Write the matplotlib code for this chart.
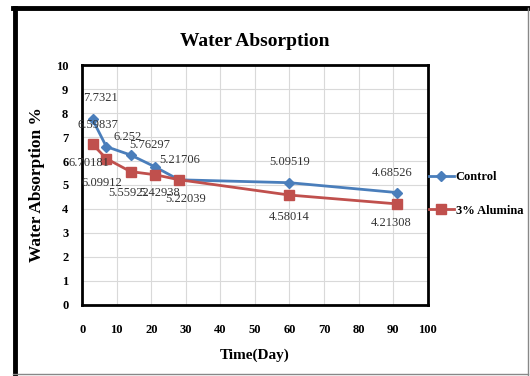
import matplotlib.pyplot as plt
from matplotlib.lines import Line2D

plt.rcParams['font.family'] = ['Liberation Serif', 'DejaVu Serif']
plt.rcParams['font.weight'] = 'bold'

days = [3, 7, 14, 21, 28, 60, 91]
control = [7.7321, 6.59837, 6.252, 5.76297, 5.21706, 5.09519, 4.68526]
alumina = [6.70181, 6.09912, 5.55922, 5.42938, 5.22039, 4.58014, 4.21308]
series_names = ['Control', '3% Alumina']

blue = '#4a7ebb'
red = '#c0504d'

fig = plt.figure(figsize=(5.30, 3.76), dpi=100)
ax = fig.add_axes([0.155, 0.189, 0.652, 0.638])

ax.plot(days, control, color=blue, lw=2, marker='D', ms=5, label=series_names[0])
ax.plot(days, alumina, color=red, lw=2, marker='s', ms=7, label=series_names[1])

# value labels (pixel offsets): control above, alumina below
ctrl_off = [(8, 21), (-8, 22), (-3, 18), (-5, 22), (1, 20), (0, 21), (-4, 20)]
alum_off = [(-4, -19), (-4, -24), (-2, -21), (5, -18), (7, -19), (0, -22), (-5, -19)]
for vals, offs in ((control, ctrl_off), (alumina, alum_off)):
    for x, y, off in zip(days, vals, offs):
        ax.annotate(f'{y:g}', (x, y), xytext=off, textcoords='offset pixels',
                    ha='center', va='center', fontsize=9, fontweight='normal',
                    color='#333333')

ax.set_xlim(0, 100)
ax.set_ylim(0, 10)
ax.set_xticks(range(0, 101, 10))
ax.set_yticks(range(0, 11))
ax.grid(True, color='#d9d9d9', lw=0.8)
ax.tick_params(length=0, labelsize=9)
ax.tick_params(axis='x', pad=14)
ax.tick_params(axis='y', pad=10)
for s in ax.spines.values():
    s.set_linewidth(2)
    s.set_color('black')

ax.set_title('Water Absorption', fontsize=14, fontweight='bold', pad=14)
ax.set_xlabel('Time(Day)', fontsize=11, fontweight='bold', labelpad=9)
ax.set_ylabel('Water Absorption %', fontsize=12.5, fontweight='bold', labelpad=8)

ax.legend(loc='center left', bbox_to_anchor=(1.0, 0.4625), frameon=False,
          fontsize=9, handlelength=2.0, labelspacing=1.7, handletextpad=0.15,
          borderaxespad=0.1, borderpad=0)

# figure border: heavy left/top, thin right/bottom
fig.add_artist(Line2D([0.028, 0.028], [0.0, 0.978], color='black', lw=3.5))
fig.add_artist(Line2D([0.025, 0.997], [0.978, 0.978], color='black', lw=3.5))
fig.add_artist(Line2D([0.996, 0.996], [0.0, 0.978], color='#888888', lw=1))
fig.add_artist(Line2D([0.025, 0.997], [0.004, 0.004], color='#888888', lw=1))

fig.savefig('out.png', dpi=100)
